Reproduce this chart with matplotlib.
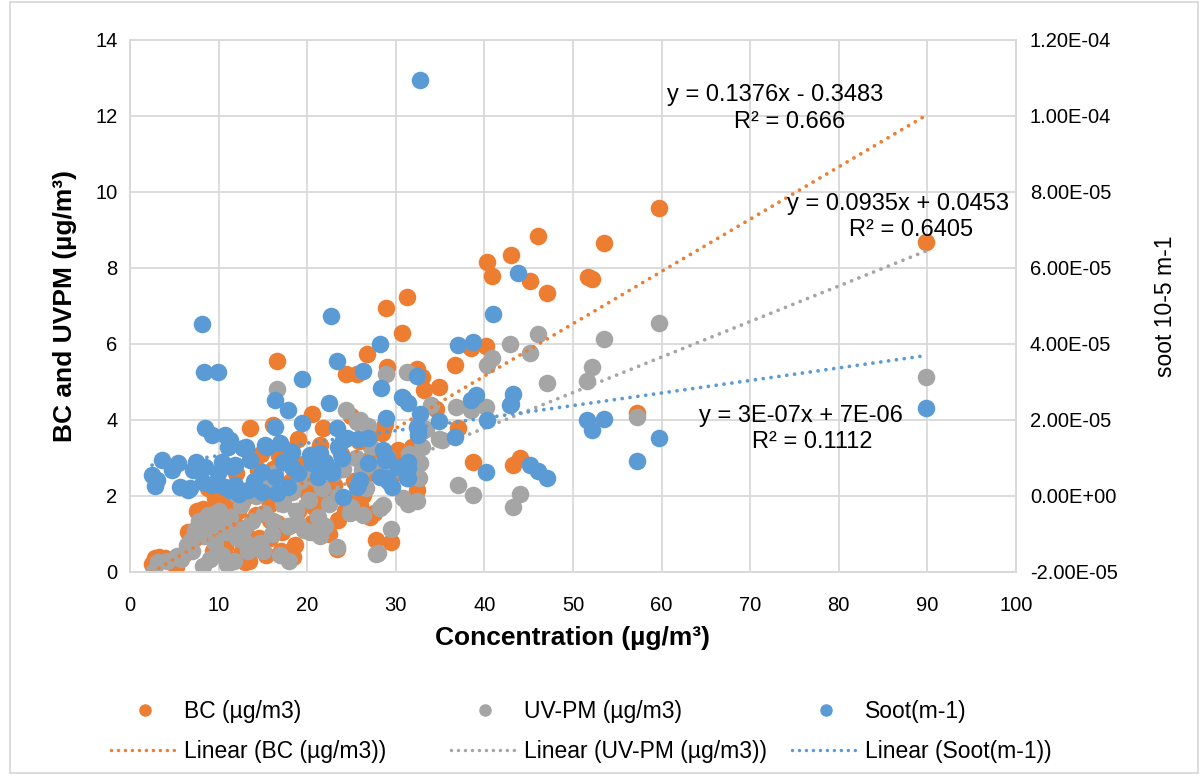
import numpy as np
import matplotlib
matplotlib.use('Agg')
import matplotlib.pyplot as plt
from matplotlib.lines import Line2D
from matplotlib.ticker import FuncFormatter

plt.rcParams['font.family'] = ['Liberation Sans', 'DejaVu Sans']

# BC (ug/m3) vs concentration
bc_x = [59.7, 89.9, 53.5, 46.0, 43.0, 40.3, 40.9, 45.2, 47.1, 51.7, 52.2, 31.3, 28.9, 30.7,
        16.6, 29.0, 32.4, 33.0, 26.8, 24.4, 25.6, 33.2, 34.9, 36.7, 38.5, 40.2, 20.6, 37.0,
        30.3, 32.4, 32.4, 38.7, 27.8, 29.5, 23.4, 43.2, 44.0, 57.2, 28.5, 13.5, 16.1, 26.3,
        23.5, 27.1,
        2.5, 2.8, 3.3, 4.0, 5.2, 5.6, 6.2, 6.8, 7.2, 7.6, 8.0, 8.3, 8.8, 9.0, 9.4, 9.8, 10.2,
        10.7, 11.0, 11.3, 11.7, 12.2, 12.6, 13.0, 13.4, 13.8, 14.2, 14.6, 15.0, 15.4, 15.8,
        16.2, 16.6, 17.0, 17.4, 17.8, 18.2, 18.6, 19.0, 19.5, 20.0, 20.5, 21.0, 21.5, 22.0,
        22.5, 23.0, 23.8, 24.3, 24.8, 25.3, 25.8, 26.0, 26.6, 27.2, 27.6, 28.2, 28.8, 29.4,
        30.0, 31.0, 31.8, 33.0, 34.5, 12.0, 10.0, 14.8, 19.0, 21.8, 18.0, 15.8, 25.0, 14.5,
        15.8, 13.0, 18.4, 6.5, 9.6, 11.8, 17.2, 20.8, 12.8, 16.8]
bc_y = [9.58, 8.68, 8.65, 8.83, 8.35, 8.15, 7.80, 7.65, 7.35, 7.75, 7.70, 7.24, 6.95, 6.29,
        5.55, 5.40, 5.34, 5.13, 5.74, 5.21, 5.21, 4.79, 4.87, 5.45, 5.90, 5.95, 4.16, 3.79,
        3.21, 3.39, 2.16, 2.89, 0.84, 0.79, 0.60, 2.82, 3.00, 4.18, 3.66, 3.79, 3.87, 2.03,
        1.37, 1.45,
        0.20, 0.37, 0.40, 0.38, 0.13, 0.42, 0.50, 0.75, 0.95, 1.60, 1.20, 1.65, 2.20, 1.00,
        0.55, 1.45, 0.80, 0.66, 1.90, 0.35, 1.25, 1.60, 0.55, 1.10, 0.28, 2.10, 1.50, 0.90,
        2.50, 0.45, 1.80, 2.70, 1.30, 0.55, 2.00, 3.20, 2.40, 0.70, 1.60, 2.85, 2.10, 1.30,
        2.60, 3.35, 2.00, 1.00, 2.30, 3.10, 1.60, 1.90, 2.40, 3.45, 1.75, 2.55, 3.00, 1.55,
        2.75, 3.90, 2.45, 3.00, 2.90, 3.30, 3.70, 4.30, 2.60, 2.30, 3.10, 3.50, 3.80, 1.20,
        0.90, 4.10, 2.68, 1.37, 0.26, 0.39, 1.05, 1.95, 2.25, 1.05, 1.70, 1.90, 3.05]

# UV-PM (ug/m3) vs concentration
uv_x = [59.7, 53.5, 46.0, 42.9, 40.3, 40.9, 45.2, 47.1, 52.2, 51.6, 57.2, 37.0, 38.7, 44.0,
        43.2, 35.2, 36.8, 38.5, 40.2, 89.9, 31.3, 28.9, 24.4, 25.6, 26.9, 34.9, 33.4, 29.5,
        27.8, 23.4, 31.4, 32.4, 28.2, 20.3, 32.7, 32.6, 16.6, 26.3, 24.8, 29.0, 26.2,
        2.7, 3.2, 4.2, 5.3, 5.8, 6.4, 6.9, 7.3, 7.8, 8.2, 8.4, 8.8, 9.2, 9.6, 10.0, 10.4,
        10.8, 11.3, 11.7, 12.1, 12.5, 12.9, 13.3, 13.8, 14.2, 14.7, 15.1, 15.6, 16.0, 16.4,
        16.9, 17.3, 17.8, 18.3, 18.7, 19.2, 19.7, 20.2, 20.7, 21.2, 21.7, 22.5, 23.0, 23.5,
        24.0, 25.0, 25.5, 26.0, 26.6, 27.2, 27.7, 28.0, 28.6, 29.3, 30.0, 30.8, 31.5, 32.0,
        33.0, 34.0, 11.0, 15.0, 18.0, 21.5, 9.0, 7.0, 10.2, 13.0, 16.2, 19.0, 22.0, 12.0]
uv_y = [6.55, 6.13, 6.26, 6.00, 5.45, 5.63, 5.76, 4.97, 5.39, 5.03, 4.08, 2.29, 2.03, 2.05,
        1.71, 3.47, 4.34, 4.26, 4.34, 5.13, 5.26, 5.21, 4.26, 3.95, 3.84, 3.50, 3.76, 1.13,
        0.47, 0.66, 1.80, 1.87, 1.68, 1.05, 2.87, 2.47, 4.81, 1.50, 1.55, 3.03, 2.68,
        0.03, 0.25, 0.30, 0.42, 0.35, 0.70, 0.85, 1.10, 1.35, 0.15, 0.95, 1.50, 1.20, 0.75,
        1.60, 0.45, 1.05, 1.45, 0.30, 0.90, 1.75, 1.15, 0.55, 1.35, 2.00, 0.75, 1.55, 2.30,
        1.00, 2.60, 0.45, 1.80, 1.20, 2.10, 1.60, 2.40, 1.10, 1.90, 2.50, 1.45, 2.20, 1.80,
        2.60, 2.00, 2.70, 1.70, 3.00, 4.00, 2.20, 3.30, 2.80, 0.50, 1.75, 2.60, 2.70, 1.95,
        3.10, 2.90, 3.30, 4.40, 0.20, 0.55, 0.30, 0.95, 0.35, 0.55, 1.25, 0.80, 1.35, 1.25,
        1.20, 2.05]

# Soot (m-1) vs concentration, values in units of 1E-05
soot_x = [32.7, 8.1, 8.4, 9.9, 22.7, 28.2, 23.4, 26.3, 28.3, 32.4, 41.0, 43.8, 19.4, 22.5,
          37.0, 38.7, 30.7, 31.4, 32.7, 28.9, 34.9, 38.5, 39.1, 40.3, 43.0, 43.2, 36.7, 23.4,
          24.5, 25.7, 26.9, 32.4, 32.5, 28.6, 26.9, 29.0, 30.3, 31.4, 31.3, 26.0, 29.1, 29.6,
          28.2, 25.6, 24.0, 20.6, 21.0, 22.8, 23.5, 24.1, 40.2, 45.2, 46.0, 47.1, 51.6, 52.2,
          53.5, 57.2, 59.7, 89.9, 42.9, 30.8, 32.5, 23.9, 28.8, 31.4, 25.7, 29.0, 31.4, 22.8,
          8.5, 9.3, 10.7, 11.1, 3.6, 5.4, 2.5, 3.0, 5.6, 6.8, 7.1, 8.5, 8.2, 10.4, 9.9, 10.7,
          11.5, 4.7, 11.3, 9.3, 16.4, 19.4, 11.3, 12.8, 15.2, 16.9, 18.3, 20.3, 21.5, 11.9,
          13.5, 14.9, 16.4, 18.3, 11.9, 13.3, 14.9, 16.6, 17.8, 20.6, 21.2, 13.1, 15.5, 16.4,
          17.8, 2.8, 6.5, 12.3, 14.0, 19.0, 17.3, 7.5, 22.0]
soot_e5 = [10.95, 4.53, 3.27, 3.27, 4.74, 4.00, 3.55, 3.29, 2.85, 3.16, 4.79, 5.87, 3.08, 2.44,
           3.97, 4.05, 2.60, 2.44, 2.16, 2.05, 1.97, 2.53, 2.66, 2.00, 2.42, 2.68, 1.55, 1.79,
           1.53, 1.50, 1.53, 1.82, 1.60, 1.21, 0.87, 1.00, 0.76, 0.74, 0.47, 0.42, 0.40, 0.24,
           0.50, 0.24, -0.03, 1.08, 1.08, 0.60, 1.29, 1.47, 0.63, 0.82, 0.66, 0.47, 2.00, 1.74,
           2.03, 0.92, 1.53, 2.32, 2.39, 2.58, 1.74, 1.00, 0.95, 0.89, 0.29, 0.47, 0.47, 0.68,
           1.79, 1.60, 1.60, 1.29, 0.95, 0.87, 0.55, 0.42, 0.24, 0.21, 0.68, 0.76, 0.37, 0.89,
           0.60, 0.24, 0.76, 0.68, 0.16, 0.29, 1.82, 1.92, 1.47, 1.26, 1.34, 1.39, 1.16, 1.08,
           1.13, 0.82, 0.95, 0.63, 0.50, 0.76, 0.29, 0.16, 0.10, 0.08, 0.24, 0.87, 0.50, 1.29,
           1.29, 2.53, 2.26, 0.26, 0.16, 0.05, 0.40, 0.60, 0.90, 0.90, 0.90]
soot_y = np.array(soot_e5) * 1e-5

# trendline coefficients (slope, intercept)
bc_fit = (0.1376, -0.3483)
uv_fit = (0.0935, 0.0453)
soot_fit = (3.3e-07, 7.3e-06)

c_bc = '#ED7D31'
c_uv = '#A5A5A5'
c_soot = '#5B9BD5'
c_grid = '#D9D9D9'

fig = plt.figure(figsize=(12, 7.76), dpi=100)
ax = fig.add_axes([0.1083, 0.2629, 0.7383, 0.6856])
ax2 = ax.twinx()

ms = 160
ax.scatter(bc_x, bc_y, s=ms, color=c_bc, linewidths=0, zorder=3)
ax.scatter(uv_x, uv_y, s=ms, color=c_uv, linewidths=0, zorder=3)
ax2.scatter(soot_x, soot_y, s=ms, color=c_soot, linewidths=0, zorder=3)

dots = dict(linestyle=(0, (0.01, 2.1)), linewidth=2.7, dash_capstyle='round',
            solid_capstyle='round', zorder=4)
xs = np.array([min(bc_x), max(bc_x)])
ax.plot(xs, bc_fit[0] * xs + bc_fit[1], color=c_bc, **dots)
xs = np.array([min(uv_x), max(uv_x)])
ax.plot(xs, uv_fit[0] * xs + uv_fit[1], color=c_uv, **dots)
xs = np.array([min(soot_x), max(soot_x)])
ax2.plot(xs, soot_fit[0] * xs + soot_fit[1], color=c_soot, **dots)

ax.set_xlim(0, 100)
ax.set_ylim(0, 14)
ax.set_xticks(np.arange(0, 101, 10))
ax.set_yticks(np.arange(0, 15, 2))
ax2.set_ylim(-2e-5, 1.2e-4)
ax2.set_yticks(np.arange(-2e-5, 1.21e-4, 2e-5))
ax2.yaxis.set_major_formatter(FuncFormatter(lambda v, p: '%.2E' % v))

ax.grid(True, color=c_grid, linewidth=1.3)
ax.set_axisbelow(True)
for a in (ax, ax2):
    for s in a.spines.values():
        s.set_color(c_grid)
        s.set_linewidth(1.3)
    a.tick_params(length=0, labelsize=14.5, colors='#000000')
ax.tick_params(axis='x', pad=17)
ax.tick_params(axis='y', pad=9)
ax2.tick_params(axis='y', pad=10)

ax.set_xlabel('Concentration (µg/m³)', fontsize=19, fontweight='bold', labelpad=8)
ax.set_ylabel('BC and UVPM (µg/m³)', fontsize=19, fontweight='bold', labelpad=13)
ax2.set_ylabel('soot 10-5 m-1', fontsize=16.5, labelpad=26)

eq = dict(fontsize=17, ha='center', va='center', zorder=6)
ax.text(72.8, 12.55, 'y = 0.1376x - 0.3483', **eq)
ax.text(74.5, 11.85, 'R² = 0.666', **eq)
ax.text(86.7, 9.68, 'y = 0.0935x + 0.0453', **eq)
ax.text(88.2, 9.0, 'R² = 0.6405', **eq)
ax.text(75.7, 4.1, 'y = 3E-07x + 7E-06', **eq)
ax.text(77.0, 3.42, 'R² = 0.1112', **eq)

names = ['BC (µg/m3)', 'UV-PM (µg/m3)', 'Soot(m-1)']
cols = [c_bc, c_uv, c_soot]
lx = [111 / 1200, 451 / 1200, 792 / 1200]
for name, col, x0 in zip(names, cols, lx):
    h1 = Line2D([], [], linestyle='none', marker='o', markersize=8, color=col)
    h2 = Line2D([], [], color=col, linestyle=(0, (0.01, 2.0)), linewidth=2.5,
                dash_capstyle='round')
    fig.legend([h1, h2], [name, 'Linear (' + name + ')'], loc='upper left',
               bbox_to_anchor=(x0, 1 - 700 / 776), frameon=False, fontsize=16.5,
               borderpad=0, borderaxespad=0, handlelength=2.95, handletextpad=0.25,
               labelspacing=0.75)

fig.patches.append(plt.Rectangle((0.008, 0.004), 0.99, 0.994, transform=fig.transFigure,
                                 fill=False, edgecolor=c_grid, linewidth=1.3))

fig.savefig('out.png', dpi=100)
